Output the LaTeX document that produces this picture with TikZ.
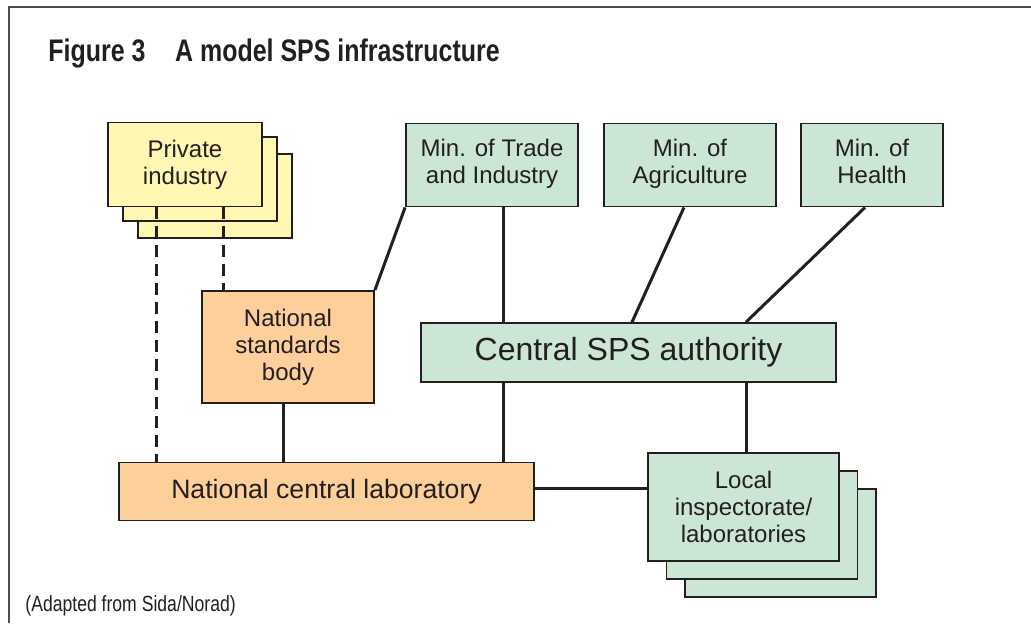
\documentclass[tikz,border=0pt]{standalone}
\usepackage{fontspec}
\setmainfont{Liberation Sans}
\newfontfamily\condfont[FakeStretch=0.8]{Liberation Sans}
\usetikzlibrary{positioning,calc}

\definecolor{inkgray}{HTML}{231F20}
\definecolor{boxyellow}{HTML}{FFF7B2}
\definecolor{boxorange}{HTML}{FDCF9B}
\definecolor{boxgreen}{HTML}{CCE6D5}

\tikzset{
  box/.style={draw=inkgray,line width=0.9pt,inner sep=0pt,align=center,
    text=inkgray,font=\fontsize{12}{13.5}\selectfont},
  ybox/.style={box,fill=boxyellow},
  obox/.style={box,fill=boxorange},
  gbox/.style={box,fill=boxgreen},
  link/.style={draw=inkgray,line width=1.5pt},
  dlink/.style={link,dash pattern=on 6pt off 3.5pt}
}

\begin{document}
\begin{tikzpicture}[x=0.5pt,y=-0.5pt]
    \useasboundingbox (0,0) rectangle (1031,623);

    % Draw frame
    \draw[inkgray!80,line width=1pt] (9,623) -- (9,7) -- (1031,7);

    % Draw title and source
    \node[anchor=base west,inner sep=0pt,text=inkgray,font=\condfont\bfseries\fontsize{15.6}{18}\selectfont] (title) at (48,61)
      {Figure 3\hspace{0.95em}A model SPS infrastructure};
    \node[anchor=base west,inner sep=0pt,text=inkgray,font=\condfont\fontsize{11}{13}\selectfont] (source) at (25,611)
      {(Adapted from Sida/Norad)};

    % Private industry (stacked)
    \node[ybox,minimum width=77pt,minimum height=42pt] (pi3) at (215,196) {};
    \node[ybox,minimum width=77pt,minimum height=42pt] (pi2) at (200,179) {};
    \node[ybox,minimum width=77pt,minimum height=42pt] (pi) at (185,164.5) {Private\\industry};

    % Ministries
    \node[gbox,minimum width=86pt,minimum height=41.5pt] (trade) at (492,165) {Min. of Trade\\and Industry\strut};
    \node[gbox,minimum width=86pt,minimum height=41.5pt] (agri) at (690,165) {Min. of\\Agriculture\strut};
    \node[gbox,minimum width=71pt,minimum height=41.5pt] (health) at (872,165) {Min. of\\Health\strut};

    % Standards body, authority, laboratory
    \node[obox,minimum width=86pt,minimum height=56pt] (nsb) at (288,347) {National\\standards\\body};
    \node[gbox,minimum width=207.5pt,minimum height=29.5pt,font=\fontsize{16}{19}\selectfont] (csa) at (628.5,352.5) {Central SPS authority};
    \node[obox,minimum width=207.5pt,minimum height=29pt,font=\fontsize{13.3}{16}\selectfont] (ncl) at (326.5,491.5) {National central laboratory};

    % Local inspectorate (stacked)
    \node[gbox,minimum width=95.5pt,minimum height=54pt] (loc3) at (780.5,543) {};
    \node[gbox,minimum width=95.5pt,minimum height=54pt] (loc2) at (762,525) {};
    \node[gbox,minimum width=95.5pt,minimum height=54pt] (loc) at (743.5,507) {Local\\inspectorate/\\laboratories};

    % Draw links
    \coordinate (csaL) at ($(csa.north west)!0.2!(csa.north east)$);
    \coordinate (csaR) at ($(csa.south west)!0.783!(csa.south east)$);
    \draw[link] (nsb.north east) -- (trade.south west);
    \draw[link] (trade.south -| csaL) -- (csaL);
    \draw[link] ($(agri.south)+(-6,0)$) -- ($(csa.north)+(3.5,0)$);
    \draw[link] ($(health.south)+(-7,0)$) -- ($(csa.north)+(117.5,0)$);
    \draw[link] (csa.south -| csaL) -- (ncl.north -| csaL);
    \draw[link] (csaR) -- (loc.north -| csaR);
    \draw[link] ($(nsb.south)+(-5,0)$) -- ($(ncl.north -| nsb.south)+(-5,0)$);
    \draw[link] ($(ncl.east)+(0,-3)$) -- ($(ncl.east -| loc.west)+(0,-3)$);
    \draw[dlink] ($(pi.south west)+(49,0)$) -- ($(ncl.north west |- ncl.north)+(38,0)$);
    \draw[dlink] ($(pi.south west)+(116,0)$) -- (nsb.north -| {$(pi.south west)+(116,0)$});
\end{tikzpicture}
\end{document}
